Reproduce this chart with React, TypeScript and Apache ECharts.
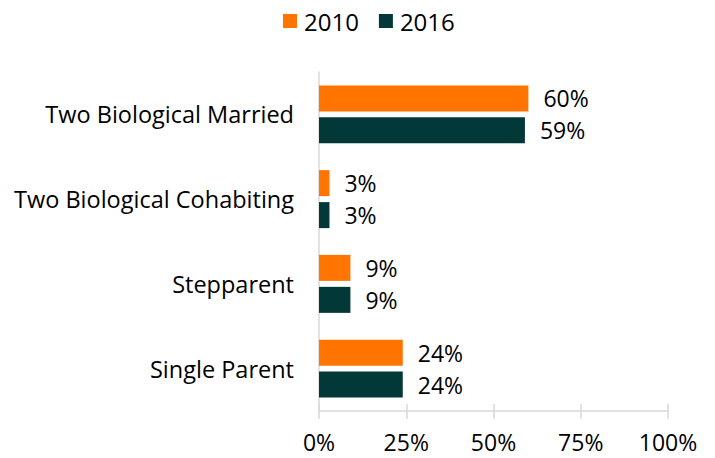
import React, { useEffect, useRef } from "react";
import * as echarts from "echarts";

const categories = [
  "Two Biological Married",
  "Two Biological Cohabiting",
  "Stepparent",
  "Single Parent",
];
const values2010 = [60, 3, 9, 24];
const values2016 = [59, 3, 9, 24];
const xTicks = [0, 25, 50, 75, 100];

const FONT = "Open Sans";
const FS = 23;

export default function App() {
  const ref = useRef<HTMLDivElement>(null);
  useEffect(() => {
    if (!ref.current) return;
    const chart = echarts.init(ref.current, undefined, { renderer: "svg" });
    const axisColor = "#D9D9D9";
    const labelStyle = {
      show: true,
      position: "right",
      distance: 15,
      formatter: "{c}%",
      fontSize: FS,
      color: "#000",
      fontFamily: FONT,
    };
    chart.setOption({
      animation: false,
      textStyle: { fontFamily: FONT },
      legend: {
        top: 4,
        left: 278,
        itemWidth: 14,
        itemHeight: 14,
        itemGap: 20,
        icon: "rect",
        textStyle: { fontSize: 24, color: "#000", fontFamily: FONT, padding: [0, 0, 0, 2] },
        data: ["2010", "2016"],
      },
      grid: { left: 319, right: 47, top: 72, bottom: 47, containLabel: false },
      xAxis: [
        {
          type: "value",
          min: xTicks[0],
          max: xTicks[xTicks.length - 1],
          interval: 25,
          axisLine: { show: true, lineStyle: { color: axisColor, width: 1.5 } },
          axisTick: { show: true, length: 8, lineStyle: { color: axisColor, width: 1.5 } },
          splitLine: { show: false },
          axisLabel: {
            formatter: "{value}%",
            fontSize: FS,
            lineHeight: 20,
            color: "#000",
            fontFamily: FONT,
            margin: 21,
          },
        },
        {
          type: "value",
          position: "bottom",
          min: xTicks[0],
          max: xTicks[xTicks.length - 1],
          interval: 25,
          axisLine: { show: false },
          axisTick: { show: true, inside: true, length: 7, lineStyle: { color: axisColor, width: 1.5 } },
          splitLine: { show: false },
          axisLabel: { show: false },
        },
      ],
      yAxis: {
        type: "category",
        inverse: true,
        data: categories,
        axisLine: { show: true, lineStyle: { color: axisColor, width: 1.5 } },
        axisTick: { show: false },
        axisLabel: { fontSize: 23.5, color: "#000", fontFamily: FONT, margin: 25 },
      },
      series: [
        {
          name: "2010",
          type: "bar",
          data: values2010,
          barWidth: 26,
          barGap: "23%",
          itemStyle: { color: "#FF7500" },
          label: labelStyle,
        },
        {
          name: "2016",
          type: "bar",
          data: values2016,
          barWidth: 26,
          barGap: "23%",
          itemStyle: { color: "#023837" },
          label: labelStyle,
        },
      ],
    });
    return () => chart.dispose();
  }, []);
  return <div ref={ref} style={{ width: 715, height: 458, position: "absolute", left: 0, top: 0 }} />;
}
